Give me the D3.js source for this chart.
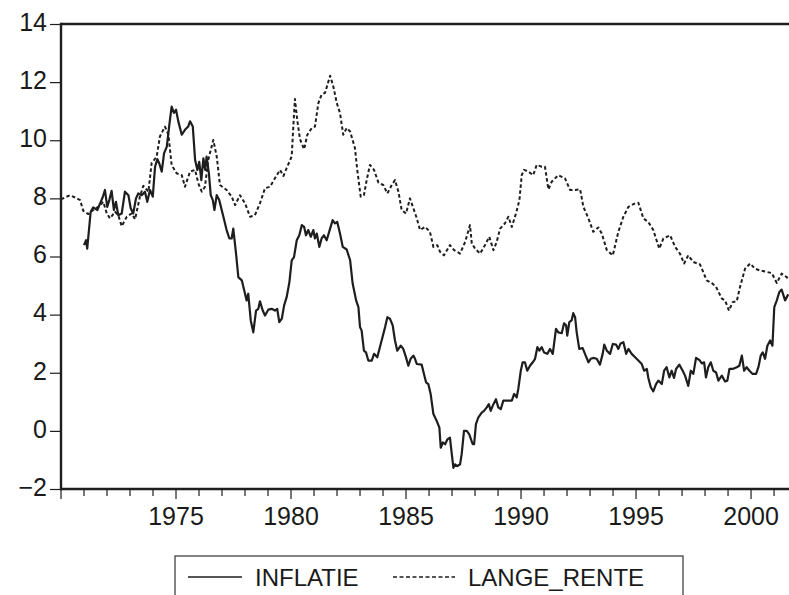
<!DOCTYPE html>
<html>
<head>
<meta charset="utf-8">
<script src="https://cdn.jsdelivr.net/npm/d3@7"></script>
<style>
  html, body { margin: 0; padding: 0; background: #fff; }
  svg { display: block; }
  text { font-family: "Liberation Sans", Arial, sans-serif; fill: #1a1a1a; }
</style>
</head>
<body>
<svg id="chart" width="789" height="595"></svg>
<script>
// ---- data (decimal year, value) ----
const seriesNames = ["INFLATIE", "LANGE_RENTE"];
const yTicks = [-2, 0, 2, 4, 6, 8, 10, 12, 14];
const xTickYears = d3.range(1970, 2002);
const xLabelYears = [1975, 1980, 1985, 1990, 1995, 2000];

const inflatie = [
[1971.00,6.39],[1971.09,6.56],[1971.14,6.27],[1971.29,7.54],[1971.40,7.69],[1971.58,7.60],[1971.70,7.83],[1971.81,8.03],[1971.91,8.29],
[1972.01,7.71],[1972.10,7.94],[1972.20,8.26],[1972.30,7.60],[1972.39,7.88],[1972.49,7.42],[1972.64,7.48],[1972.78,8.23],[1972.93,8.11],
[1973.03,7.66],[1973.14,7.48],[1973.26,8.00],[1973.36,8.17],[1973.51,8.11],[1973.65,8.23],[1973.75,7.88],[1973.87,8.29],[1973.99,8.06],
[1974.09,9.09],[1974.19,9.35],[1974.27,9.21],[1974.38,8.92],[1974.48,9.55],[1974.60,9.78],[1974.71,10.53],[1974.81,11.16],[1974.91,10.94],
[1975.00,11.05],[1975.10,10.65],[1975.25,10.19],[1975.39,10.36],[1975.53,10.47],[1975.61,10.65],[1975.73,10.47],[1975.83,9.32],[1975.93,8.98],
[1976.01,9.26],[1976.10,8.63],[1976.19,9.38],[1976.27,8.98],[1976.33,9.44],[1976.43,8.86],[1976.51,8.11],[1976.60,7.94],[1976.67,7.60],[1976.77,8.11],[1976.88,7.94],
[1977.06,7.37],[1977.20,6.91],[1977.32,6.62],[1977.42,6.62],[1977.49,6.96],[1977.61,6.10],[1977.71,5.29],[1977.86,5.18],
[1978.00,4.72],[1978.07,4.49],[1978.14,4.72],[1978.25,3.80],[1978.36,3.39],[1978.48,4.14],[1978.58,4.20],[1978.65,4.46],[1978.77,4.14],[1978.87,3.97],
[1979.01,4.17],[1979.16,4.20],[1979.30,4.14],[1979.40,4.20],[1979.49,3.74],[1979.60,3.86],[1979.70,4.32],[1979.81,4.60],[1979.93,5.12],
[1980.03,5.87],[1980.13,5.98],[1980.25,6.56],[1980.36,6.73],[1980.47,7.08],[1980.57,7.02],[1980.65,6.73],[1980.75,6.91],[1980.86,6.68],[1980.97,6.91],
[1981.04,6.62],[1981.12,6.79],[1981.23,6.33],[1981.33,6.62],[1981.43,6.73],[1981.55,6.56],[1981.70,6.96],[1981.81,7.25],[1981.91,7.14],
[1982.01,7.19],[1982.13,6.79],[1982.25,6.33],[1982.42,6.24],[1982.57,5.87],[1982.68,5.07],[1982.83,4.49],[1982.93,4.26],
[1983.00,3.57],[1983.07,3.45],[1983.17,2.76],[1983.26,2.70],[1983.36,2.42],[1983.51,2.42],[1983.61,2.65],[1983.75,2.53],[1983.94,3.11],
[1984.09,3.57],[1984.19,3.91],[1984.30,3.86],[1984.42,3.63],[1984.52,3.11],[1984.62,2.76],[1984.77,2.93],[1984.88,2.82],
[1985.00,2.53],[1985.10,2.24],[1985.20,2.48],[1985.32,2.59],[1985.39,2.48],[1985.47,2.30],[1985.68,2.28],[1985.78,1.96],[1985.87,1.67],[1985.97,1.61],
[1986.07,1.27],[1986.19,0.58],[1986.33,0.35],[1986.45,0.11],[1986.51,-0.58],[1986.60,-0.40],[1986.70,-0.46],[1986.80,-0.29],[1986.91,-0.23],[1986.99,-0.80],
[1987.06,-1.27],[1987.13,-1.15],[1987.23,-1.21],[1987.35,-1.15],[1987.42,-0.80],[1987.52,0.00],[1987.64,0.00],[1987.75,-0.12],[1987.90,-0.46],[1987.96,-0.46],
[1988.04,0.23],[1988.14,0.46],[1988.29,0.63],[1988.39,0.69],[1988.51,0.81],[1988.60,0.92],[1988.68,0.69],[1988.80,0.92],[1988.91,1.09],
[1989.01,0.81],[1989.12,0.75],[1989.23,1.04],[1989.38,1.04],[1989.60,1.04],[1989.70,1.27],[1989.81,1.15],[1989.88,1.44],[1989.99,2.07],
[1990.07,2.36],[1990.17,2.36],[1990.27,2.07],[1990.39,2.24],[1990.51,2.36],[1990.61,2.48],[1990.71,2.88],[1990.80,2.76],[1990.90,2.88],
[1991.00,2.70],[1991.14,2.65],[1991.26,2.82],[1991.38,2.65],[1991.52,3.51],[1991.62,3.39],[1991.77,3.36],[1991.87,3.70],[1991.96,3.63],
[1992.01,3.28],[1992.10,3.74],[1992.20,3.80],[1992.27,4.05],[1992.35,3.91],[1992.42,3.39],[1992.53,2.82],[1992.68,2.85],[1992.78,2.65],[1992.93,2.36],
[1993.03,2.48],[1993.14,2.51],[1993.29,2.48],[1993.43,2.28],[1993.55,2.65],[1993.62,2.97],[1993.73,2.76],[1993.87,2.65],[1993.99,2.99],
[1994.13,2.97],[1994.23,2.82],[1994.33,3.01],[1994.45,3.05],[1994.57,2.65],[1994.67,2.82],[1994.81,2.65],[1994.96,2.53],
[1995.10,2.42],[1995.25,2.30],[1995.35,2.07],[1995.47,2.13],[1995.53,1.84],[1995.64,1.50],[1995.75,1.36],[1995.87,1.61],[1995.97,1.73],
[1996.12,1.61],[1996.22,2.07],[1996.33,2.19],[1996.45,1.84],[1996.55,2.07],[1996.65,1.82],[1996.74,2.13],[1996.88,2.28],
[1997.03,2.07],[1997.13,1.90],[1997.27,1.55],[1997.38,2.07],[1997.49,1.96],[1997.61,2.51],[1997.75,2.44],[1997.86,2.32],[1997.96,2.36],
[1998.04,1.84],[1998.14,2.19],[1998.25,2.36],[1998.36,2.07],[1998.48,2.01],[1998.58,1.73],[1998.73,1.90],[1998.87,1.70],[1998.97,1.73],
[1999.06,2.13],[1999.20,2.13],[1999.38,2.19],[1999.49,2.24],[1999.60,2.59],[1999.70,2.07],[1999.81,2.19],[1999.93,2.07],
[2000.07,1.96],[2000.22,1.96],[2000.32,2.19],[2000.42,2.59],[2000.51,2.70],[2000.61,2.48],[2000.71,2.93],[2000.83,3.11],[2000.93,2.93],
[2001.01,4.26],[2001.12,4.49],[2001.23,4.78],[2001.33,4.86],[2001.48,4.49],[2001.62,4.70]
];

const langeRente = [
[1970.00,7.97],[1970.39,8.11],[1970.61,8.03],[1970.83,7.94],[1970.97,7.57],
[1971.19,7.46],[1971.40,7.60],[1971.62,7.71],[1971.84,7.88],[1971.99,7.48],
[1972.13,7.31],[1972.35,7.54],[1972.49,7.42],[1972.64,7.04],[1972.86,7.37],
[1973.07,7.48],[1973.22,7.28],[1973.43,8.06],[1973.58,8.43],[1973.80,8.23],[1973.94,9.21],
[1974.16,9.44],[1974.30,10.13],[1974.52,10.47],[1974.67,10.19],[1974.81,9.15],
[1975.03,8.86],[1975.25,8.80],[1975.39,8.40],[1975.61,8.92],[1975.83,8.98],[1975.97,8.52],
[1976.12,8.23],[1976.26,8.40],[1976.40,9.32],[1976.62,10.01],[1976.77,9.44],[1976.91,8.46],
[1977.20,8.29],[1977.42,8.06],[1977.57,7.77],[1977.78,8.11],
[1978.00,7.83],[1978.22,7.37],[1978.43,7.42],[1978.65,7.83],[1978.87,8.35],
[1979.09,8.40],[1979.30,8.69],[1979.52,8.98],[1979.67,8.77],[1979.81,9.04],
[1980.03,9.44],[1980.10,10.47],[1980.17,11.42],[1980.27,10.70],[1980.39,10.04],[1980.57,9.69],[1980.71,10.19],[1980.90,10.42],
[1981.04,10.47],[1981.19,11.28],[1981.33,11.57],[1981.48,11.63],[1981.70,12.22],[1981.84,11.85],[1981.99,11.28],
[1982.13,10.94],[1982.27,10.19],[1982.42,10.42],[1982.57,10.30],[1982.78,9.73],[1982.88,8.98],
[1983.03,8.06],[1983.17,8.11],[1983.29,8.63],[1983.43,9.15],[1983.61,8.98],[1983.80,8.54],
[1984.01,8.46],[1984.19,8.17],[1984.38,8.46],[1984.52,8.63],[1984.67,8.23],[1984.81,7.60],
[1985.00,7.48],[1985.17,8.00],[1985.32,7.66],[1985.47,7.31],[1985.61,6.91],[1985.83,7.02],
[1986.04,6.85],[1986.19,6.33],[1986.36,6.39],[1986.48,6.16],[1986.65,6.04],[1986.91,6.39],
[1987.09,6.22],[1987.35,6.10],[1987.57,6.50],[1987.78,7.08],[1987.86,6.45],
[1988.00,6.27],[1988.22,6.10],[1988.43,6.39],[1988.62,6.68],[1988.80,6.22],[1988.94,6.50],
[1989.09,6.96],[1989.30,7.14],[1989.45,7.37],[1989.60,7.02],[1989.78,7.48],[1989.93,7.94],
[1990.03,8.80],[1990.13,8.98],[1990.32,8.92],[1990.53,8.80],[1990.68,9.15],[1990.90,9.09],
[1991.04,9.09],[1991.19,8.31],[1991.33,8.57],[1991.62,8.80],[1991.91,8.69],
[1992.13,8.29],[1992.35,8.29],[1992.57,8.31],[1992.71,7.71],[1992.93,7.31],
[1993.14,6.85],[1993.36,7.00],[1993.51,6.79],[1993.73,6.22],[1993.99,6.04],
[1994.23,6.85],[1994.45,7.37],[1994.67,7.71],[1994.96,7.83],
[1995.10,7.85],[1995.32,7.31],[1995.53,7.19],[1995.75,6.91],
[1996.01,6.27],[1996.19,6.62],[1996.48,6.73],[1996.70,6.33],[1996.91,6.10],
[1997.09,5.76],[1997.27,6.04],[1997.49,5.81],[1997.78,5.73],
[1998.07,5.18],[1998.29,5.09],[1998.48,4.95],[1998.73,4.55],[1998.87,4.49],
[1999.04,4.14],[1999.20,4.43],[1999.38,4.46],[1999.52,4.95],[1999.74,5.58],[1999.96,5.76],
[2000.17,5.58],[2000.39,5.52],[2000.68,5.47],[2000.90,5.43],
[2001.12,5.09],[2001.33,5.41],[2001.55,5.29],[2001.65,5.20]
];

// ---- drawing ----
const svg = d3.select("#chart");
const pLeft = 61, pRight = 789, pTop = 24, pBottom = 489;
const x = d3.scaleLinear().domain([1970, 2001.65]).range([pLeft, pRight]);
const y = d3.scaleLinear().domain([-2, 14]).range([pBottom, pTop]);
const ink = "#1e1e1e";
const tickFont = 25, legendFont = 24;

svg.append("defs").append("clipPath").attr("id", "plotClip")
  .append("rect").attr("x", pLeft).attr("y", pTop - 2).attr("width", pRight - pLeft + 2).attr("height", pBottom - pTop + 4);

const line = d3.line().x(d => x(d[0])).y(d => y(d[1]));

const g = svg.append("g").attr("clip-path", "url(#plotClip)");
g.append("path").datum(langeRente)
  .attr("d", line).attr("fill", "none").attr("stroke", ink)
  .attr("stroke-width", 2).attr("stroke-dasharray", "3.5,2.5").attr("stroke-linejoin", "round");
g.append("path").datum(inflatie)
  .attr("d", line).attr("fill", "none").attr("stroke", ink)
  .attr("stroke-width", 2.2).attr("stroke-linejoin", "round");

// frame (left, bottom, top)
svg.append("line").attr("x1", pLeft).attr("x2", pRight).attr("y1", pTop).attr("y2", pTop)
  .attr("stroke", ink).attr("stroke-width", 2.4);
svg.append("line").attr("x1", pLeft).attr("x2", pRight).attr("y1", pBottom).attr("y2", pBottom)
  .attr("stroke", ink).attr("stroke-width", 2.4);
svg.append("line").attr("x1", pLeft).attr("x2", pLeft).attr("y1", pTop - 1.2).attr("y2", pBottom + 1.2)
  .attr("stroke", ink).attr("stroke-width", 2.4);

// y axis
const yAxis = d3.axisLeft(y).tickValues(yTicks).tickSize(11).tickPadding(3).tickFormat(d3.format("d"));
const ya = svg.append("g").attr("transform", `translate(${pLeft},0)`).call(yAxis);
ya.select(".domain").remove();
ya.selectAll(".tick line").attr("stroke", ink).attr("stroke-width", 1.2);
ya.selectAll(".tick text").attr("font-size", tickFont).attr("dy", "0.25em")
  .style("font-family", "'Liberation Sans', Arial, sans-serif").attr("fill", "#1a1a1a");

// x axis: minor ticks every year, longer at multiples of 5
const xa = svg.append("g");
xa.selectAll("line.xt").data(xTickYears).enter().append("line")
  .attr("x1", d => x(d)).attr("x2", d => x(d))
  .attr("y1", pBottom).attr("y2", d => pBottom + (d % 5 === 0 ? 10 : 7))
  .attr("stroke", ink).attr("stroke-width", 1.2);
xa.selectAll("text.xl").data(xLabelYears).enter().append("text")
  .attr("x", d => x(d)).attr("y", 525).attr("text-anchor", "middle")
  .attr("font-size", tickFont).text(d => d);

// legend
const lg = svg.append("g");
lg.append("rect").attr("x", 175).attr("y", 556).attr("width", 508).attr("height", 60)
  .attr("fill", "#fff").attr("stroke", "#333").attr("stroke-width", 1.2);
lg.append("line").attr("x1", 188).attr("x2", 242).attr("y1", 577).attr("y2", 577)
  .attr("stroke", ink).attr("stroke-width", 1.6);
lg.append("text").attr("x", 255).attr("y", 586).attr("font-size", legendFont).text(seriesNames[0]);
lg.append("line").attr("x1", 393).attr("x2", 455).attr("y1", 577).attr("y2", 577)
  .attr("stroke", ink).attr("stroke-width", 1.6).attr("stroke-dasharray", "4,2.5");
lg.append("text").attr("x", 468).attr("y", 586).attr("font-size", legendFont).text(seriesNames[1]);
</script>
</body>
</html>
